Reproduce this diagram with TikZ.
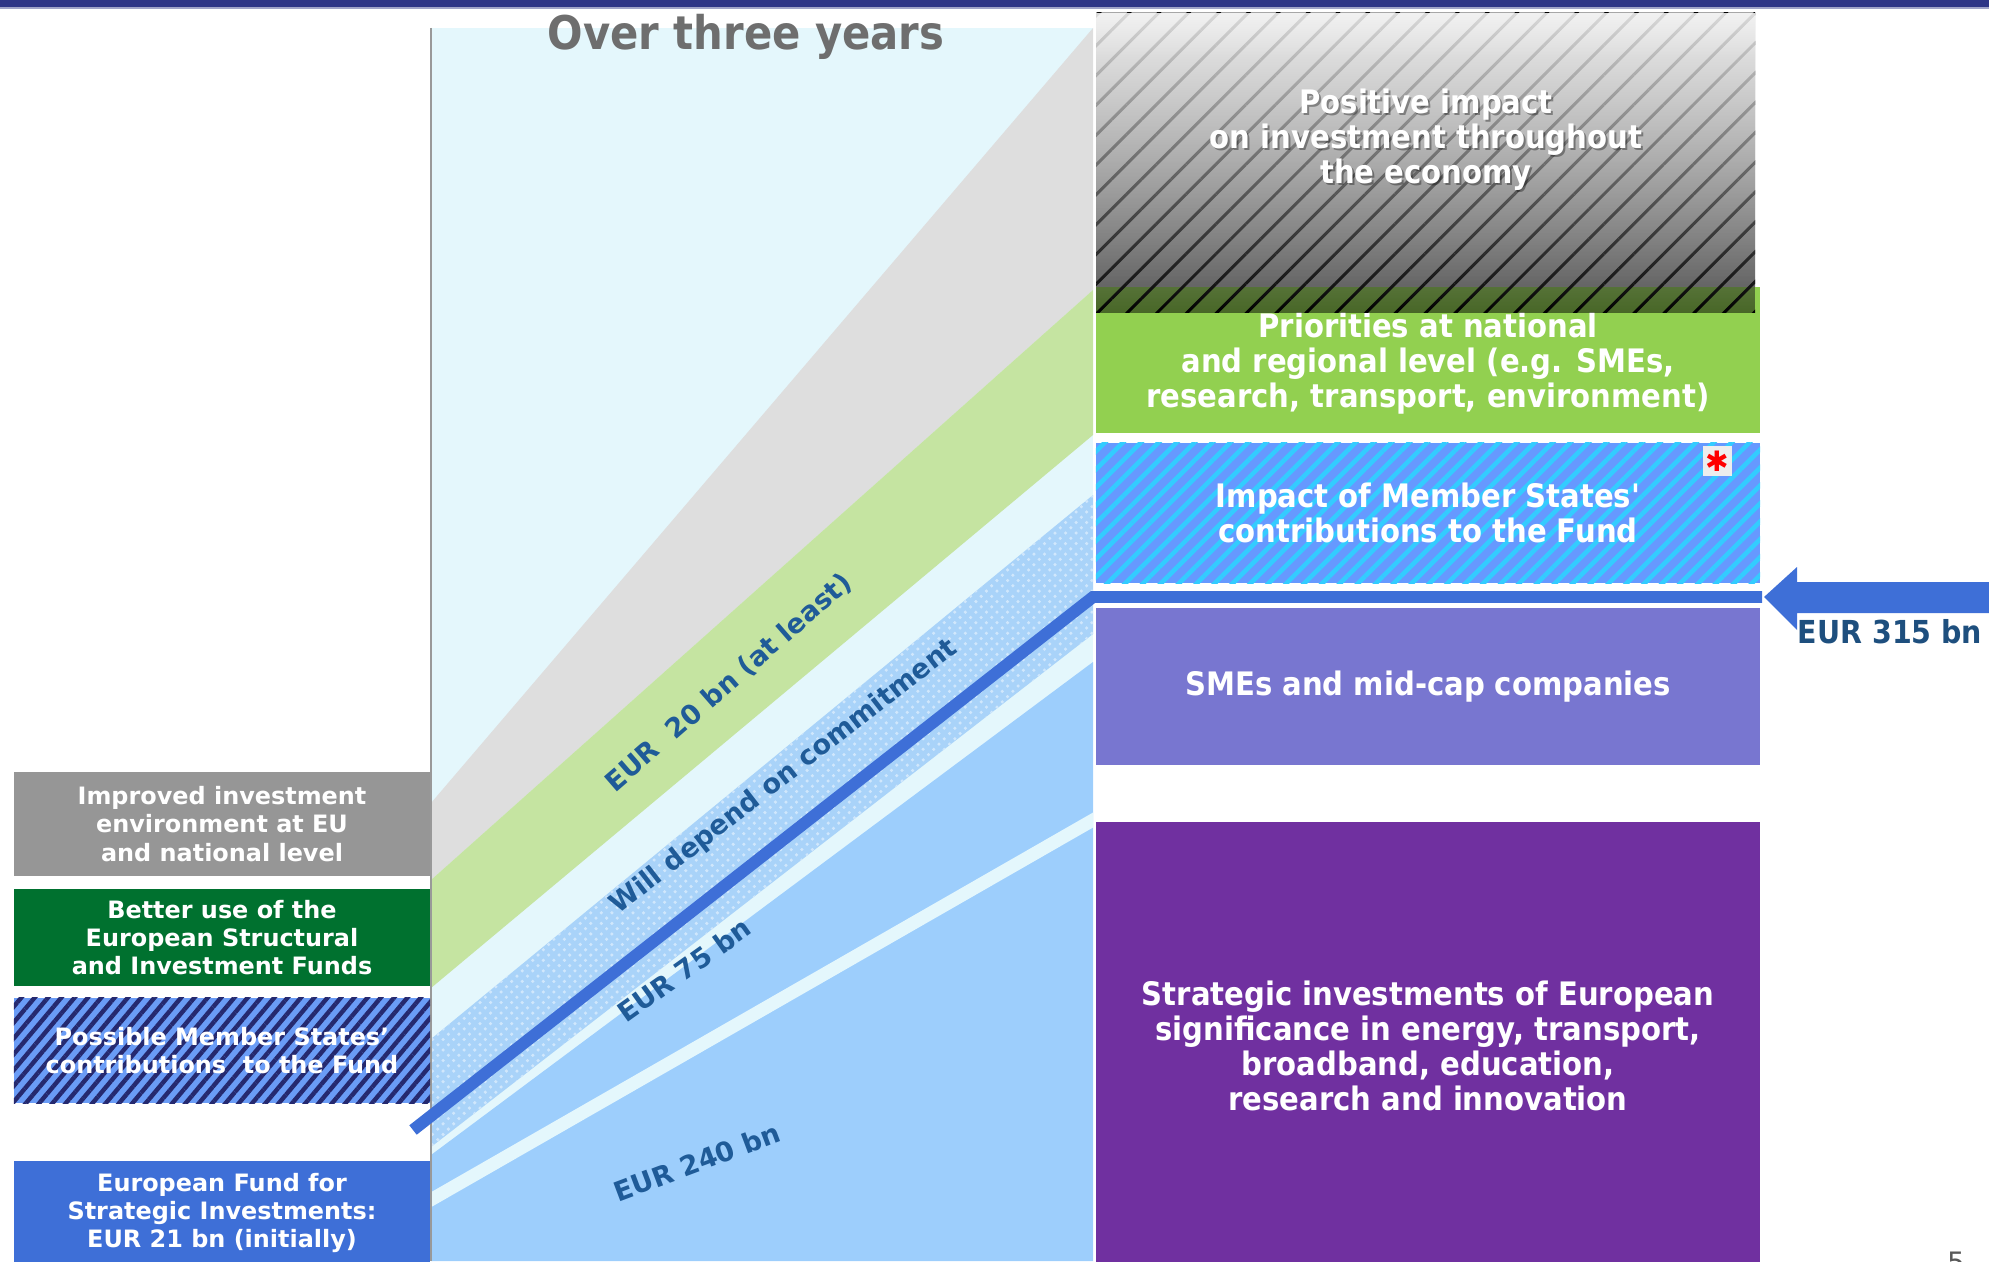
\documentclass[tikz,border=0pt]{standalone}
\usepackage{fontspec}
\setmainfont{DejaVu Sans}
\newfontfamily\condfont{DejaVu Sans Condensed}
\usetikzlibrary{patterns,patterns.meta,fadings}

\definecolor{barblue}{HTML}{2E3586}
\definecolor{panelcyan}{HTML}{E4F7FC}
\definecolor{bandgray}{HTML}{DEDEDE}
\definecolor{bandgreen}{HTML}{C5E4A1}
\definecolor{bandhatch}{HTML}{A9D3F9}
\definecolor{bandblue}{HTML}{9DCEFC}
\definecolor{fundblue}{HTML}{3E6FD7}
\definecolor{boxgray}{HTML}{969696}
\definecolor{boxgreen}{HTML}{00712F}
\definecolor{msblue}{HTML}{6A9CF6}
\definecolor{msnavy}{HTML}{25296F}
\definecolor{prioritygreen}{HTML}{92D050}
\definecolor{impactblue}{HTML}{6699FF}
\definecolor{impactcyan}{HTML}{33CCFF}
\definecolor{smepurple}{HTML}{7876D0}
\definecolor{strategicpurple}{HTML}{7030A0}
\definecolor{labelblue}{HTML}{1F5B98}
\definecolor{totalblue}{HTML}{1E4F7E}
\definecolor{titlegray}{HTML}{6E6E6E}

\tikzfading[name=whitefade, top color=transparent!15, bottom color=transparent!100]
\pgfdeclareverticalshading{impactshade}{100bp}{color(0bp)=(black!74); color(40bp)=(black!60);
  color(67bp)=(black!50); color(88bp)=(black!10); color(100bp)=(white)}

\tikzset{
  leftbox/.style={minimum width=4.16cm, inner sep=0pt, text=white, align=center,
    font=\fontsize{6.8}{8}\selectfont\bfseries},
  rightbox/.style={minimum width=6.64cm, inner sep=0pt, text=white, align=center,
    font=\condfont\fontsize{9.2}{10}\selectfont\bfseries},
  bandlabel/.style={inner sep=0pt, text=labelblue, font=\fontsize{7.7}{9}\selectfont\bfseries},
}

\begin{document}
\begin{tikzpicture}[line cap=butt,line join=miter,x=0.01cm,y=-0.01cm]
\useasboundingbox (0,0) rectangle (1989,1261);
% top bar
\fill[barblue] (0,0) rectangle (1989,7);
\fill[barblue!45] (0,7) rectangle (1989,9);

% three years panel
\begin{scope}
  \clip (431,28) rectangle (1093,1261);
  \fill[panelcyan] (431,28) rectangle (1093,1261);
  \fill[bandgray] (431,803) -- (1093,28) -- (1093,290) -- (431,880) -- cycle;
  \fill[bandgreen] (431,880) -- (1093,290) -- (1093,435) -- (431,988) -- cycle;
  \fill[bandhatch, postaction={pattern=crosshatch dots, pattern color=white!45!bandhatch}]
    (431,1039) -- (1093,495) -- (1093,634) -- (431,1147) -- cycle;
  \fill[bandblue] (431,1155) -- (1093,662) -- (1093,1261) -- (431,1261) -- cycle;
  \draw[panelcyan, line width=3.7pt] (420,1206) -- (1100,816);
\end{scope}
\draw[gray!80, line width=0.6pt] (431,28) -- (431,1261);

\node[bandlabel, rotate=41] (atleast) at (729,683) {EUR\hspace{0.7em}20 bn (at least)};
\node[bandlabel, rotate=37.8] (commitment) at (784,777) {Will depend on commitment};
\node[bandlabel, rotate=35.5] (seventyfive) at (684,970) {EUR 75 bn};
\node[bandlabel, rotate=20.6] (twoforty) at (697,1162) {EUR 240 bn};

\node[anchor=base, text=titlegray, font=\condfont\fontsize{13.2}{15}\selectfont\bfseries]
  (title) at (746,50) {Over three years};

% left column
\node[leftbox, fill=boxgray, minimum height=1.04cm] (improved) at (222,824)
  {Improved investment\\environment at EU\\and national level};
\node[leftbox, fill=boxgreen, minimum height=0.97cm] (betteruse) at (222,937.5)
  {Better use of the\\European Structural\\and Investment Funds};
\node[leftbox, fill=msblue, minimum height=1.05cm,
  postaction={pattern={Lines[angle=50,distance=2.9pt,line width=1.25pt]}, pattern color=msnavy}]
  (possible) at (222,1050.5) {};
\node[leftbox] at (possible) {Possible Member States'\\contributions\ \ to the Fund};
\node[leftbox, fill=fundblue, minimum height=1.04cm] (efsi) at (222,1213)
  {European Fund for\\Strategic Investments:\\EUR 21 bn (initially)};

% right column
\node[rightbox, fill=prioritygreen, minimum height=1.46cm, text depth=0pt] (priorities) at (1428,360)
  {Priorities at national\\and regional level (e.g. SMEs,\\research, transport, environment)};
\fill[black, fill opacity=0.5] (1096,287) rectangle (1755,313);
\shade[shading=impactshade] (1096,13) rectangle (1755,287);
\fill[pattern={Lines[angle=45,distance=6pt,line width=0.85pt]}, pattern color=black]
  (1096,13) rectangle (1755,313);
\fill[white, path fading=whitefade] (1096,13) rectangle (1755,313);
\node[rightbox, text=black, opacity=0.35] at (1428,142)
  {Positive impact\\on investment throughout\\the economy};
\node[rightbox] (positive) at (1426,140)
  {Positive impact\\on investment throughout\\the economy};

\node[rightbox, fill=impactblue, minimum height=1.40cm,
  postaction={pattern={Lines[angle=45,distance=3.6pt,line width=1.3pt]}, pattern color=impactcyan}]
  (impact) at (1428,513) {};
\node[rightbox] at (impact) {Impact of Member States'\\contributions to the Fund};
\node[fill=white!93!black, minimum size=0.29cm, inner sep=0pt, text=red,
  font=\fontsize{8}{8}\selectfont] (star) at (1717,461) {✱};

\node[rightbox, fill=smepurple, minimum height=1.57cm] (smes) at (1428,686.5)
  {SMEs and mid-cap companies};
\node[rightbox, fill=strategicpurple, minimum height=4.48cm] (strategic) at (1428,1046)
  {Strategic investments of European\\significance in energy, transport,\\broadband, education,\\research and innovation};

% fund line and arrow
\draw[fundblue, line width=3.4pt] (413,1130) -- (1093,597) -- (1762,597);
\fill[fundblue] (1764,597) -- (1797,567) -- (1797,582) -- (1995,582) -- (1995,613)
  -- (1797,613) -- (1797,630) -- cycle;
\node[inner sep=0pt, text=totalblue, font=\condfont\fontsize{9}{10}\selectfont\bfseries]
  (total) at (1890,632) {EUR 315 bn};

\node[anchor=base, inner sep=0pt, text=black!65, font=\fontsize{8}{9}\selectfont] (page) at (1956,1272) {5};
\end{tikzpicture}
\end{document}
